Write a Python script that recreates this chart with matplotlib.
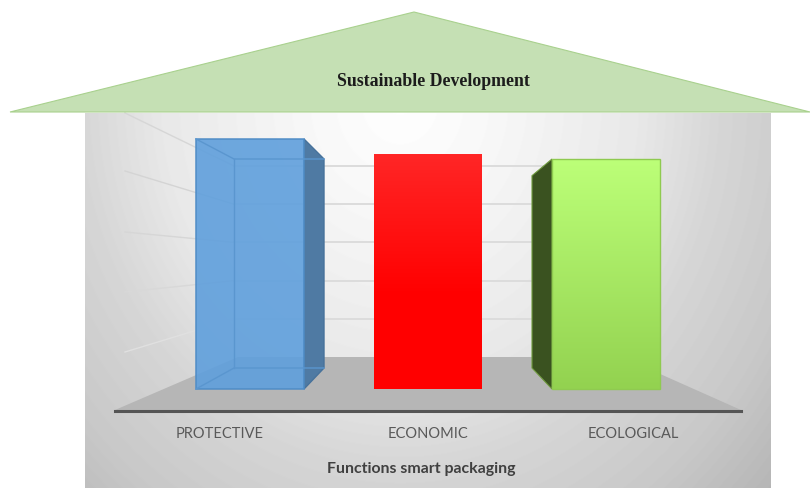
import matplotlib.pyplot as plt
from matplotlib.colors import to_rgb
from matplotlib.patches import Polygon
import numpy as np

# data
categories = ['PROTECTIVE', 'ECONOMIC', 'ECOLOGICAL']
values = [5.0, 4.7, 4.6]
grid_values = [1, 2, 3, 4, 5]
title = 'Sustainable Development'
axis_title = 'Functions smart packaging'

W, H = 810, 489
plt.rcParams['font.family'] = ['Lato', 'DejaVu Sans']

fig = plt.figure(figsize=(W / 100, H / 100), dpi=100)
fig.patch.set_facecolor('white')

# background layer works in pixels
ax_bg = fig.add_axes([0, 0, 1, 1], zorder=0)
ax_bg.axis('off')

# grey wall with a soft radial light
yy, xx = np.mgrid[113:489, 85:771]
r = np.hypot(xx - 400, (yy - 100) / 1.15)
shade = np.interp(r, [0, 90, 240, 320, 420, 500], [255, 248, 232, 214, 200, 182])
ax_bg.imshow(shade, cmap='gray', vmin=0, vmax=255, extent=(85, 771, 489, 113), aspect='auto', zorder=1)
ax_bg.set_xlim(0, W)
ax_bg.set_ylim(H - 1, -1)

# back wall and side wall grid lines
wall_base, wall_step = 357, 38.2
left_edge_y = {1: 352, 2: 292, 3: 232, 4: 171, 5: 113}
left_colors = {1: '#e0e0e0', 2: '#d8d8d8', 3: '#d6d6d6', 4: '#d4d4d4', 5: '#d6d6d6'}
for v in grid_values:
    y = wall_base - v * wall_step
    ax_bg.plot([234, 622], [y, y], color='#dcdcdc', lw=1.4, zorder=2)
    ax_bg.plot([234, 125], [y, left_edge_y[v]], color=left_colors[v], lw=1.0, zorder=2)

# floor
ax_bg.add_patch(Polygon([(115, 410), (238, 357), (622, 357), (741, 410)], closed=True,
                        facecolor='#b6b6b6', edgecolor='none', zorder=3))

# roof
ax_bg.add_patch(Polygon([(10, 112), (414, 12), (810, 112)], closed=True,
                        facecolor='#c5e0b4', edgecolor='#a9d18e', lw=0.8, zorder=4))
ax_bg.text(433, 81, title, family='Liberation Serif', fontweight='bold', fontsize=12.8,
           color='#1c1c1c', ha='center', va='center', zorder=5)

# category axis along the front of the floor
ax_cat = fig.add_axes([115 / W, 1 - 411.5 / H, 626 / W, 30 / H], zorder=1)
ax_cat.patch.set_alpha(0)
ax_cat.set_xlim(-0.5, len(categories) - 0.5)
ax_cat.set_ylim(0, 1)
ax_cat.set_yticks([])
for side in ['top', 'left', 'right']:
    ax_cat.spines[side].set_visible(False)
ax_cat.spines['bottom'].set_linewidth(2.2)
ax_cat.spines['bottom'].set_color('#555555')
ax_cat.set_xticks([0, 1, 1.985])
ax_cat.set_xticklabels(categories, fontsize=10.5, color='#595959')
ax_cat.tick_params(axis='x', length=0, pad=11)
ax_cat.set_xlabel(axis_title, fontsize=11.4, fontweight='bold', color='#404040', labelpad=15, x=0.49)

# bars: 178 px between categories, 50 px per value unit, base at y=389
ax = fig.add_axes([0, 0, 1, 1], zorder=2)
ax.axis('off')
ax.patch.set_alpha(0)
x0, dx, base, unit = 250, 178, 390, 50
xlim = ((0 - x0) / dx, (W - x0) / dx)
ylim = ((base - H) / unit, base / unit)
xs = np.arange(len(categories))
bar_w = 108 / dx
shrink = 0.836
lift = 21 / unit
side_dx = 20 / dx
inner_dx = 38 / dx

bars = ax.bar(xs, values, width=bar_w, color='none', edgecolor='none', zorder=3)


def gradient(bar, top, bottom, zorder, stop=1.0):
    t = np.clip(np.linspace(0, 1, 128) / stop, 0, 1)[:, None]
    c = (np.array(to_rgb(top)) * (1 - t) + np.array(to_rgb(bottom)) * t).reshape(128, 1, 3)
    im = ax.imshow(c, extent=(bar.get_x(), bar.get_x() + bar.get_width(), 0, bar.get_height()),
                   origin='upper', aspect='auto', zorder=zorder)
    im.set_clip_path(bar)


# protective: see-through box, side face on the right
i, v = 0, values[0]
left, right = xs[i] - bar_w / 2, xs[i] + bar_w / 2
back_top = lift + v * shrink
ax.add_patch(Polygon([(right, 0), (right + side_dx, lift), (right + side_dx, back_top), (right, v)],
                     closed=True, facecolor='#4f7aa3', edgecolor='#47729b', lw=1, zorder=2))
bars[0].set_facecolor('#5f9fdc')
bars[0].set_alpha(0.9)
bars[0].set_edgecolor('#4f8cc6')
bars[0].set_linewidth(1.2)
ax.plot([left, left + inner_dx, right + side_dx], [v, back_top, back_top], color='#5a96cf', lw=1, zorder=4)
ax.plot([left + inner_dx, left + inner_dx], [back_top, lift], color='#5a96cf', lw=1, zorder=4)
ax.plot([left, left + inner_dx, right + side_dx], [0, lift, lift], color='#5a96cf', lw=1, zorder=4)

# economic: plain front with a light red top
gradient(bars[1], '#ff2626', '#ff0000', 3, stop=0.6)

# ecological: dark side face on the left
i, v = 2, values[2]
left = xs[i] - bar_w / 2
back_top = lift + v * shrink
ax.add_patch(Polygon([(left, 0), (left - side_dx, lift), (left - side_dx, back_top), (left, v)],
                     closed=True, facecolor='#3a5220', edgecolor='#6f9a3e', lw=0.8, zorder=2))
gradient(bars[2], '#bcff78', '#93d250', 3)
ax.add_patch(Polygon(bars[2].get_corners(), closed=True, facecolor='none', edgecolor='#8fca50', lw=1, zorder=4))

ax.set_xlim(xlim)
ax.set_ylim(ylim)

fig.savefig('out.png', dpi=100)
